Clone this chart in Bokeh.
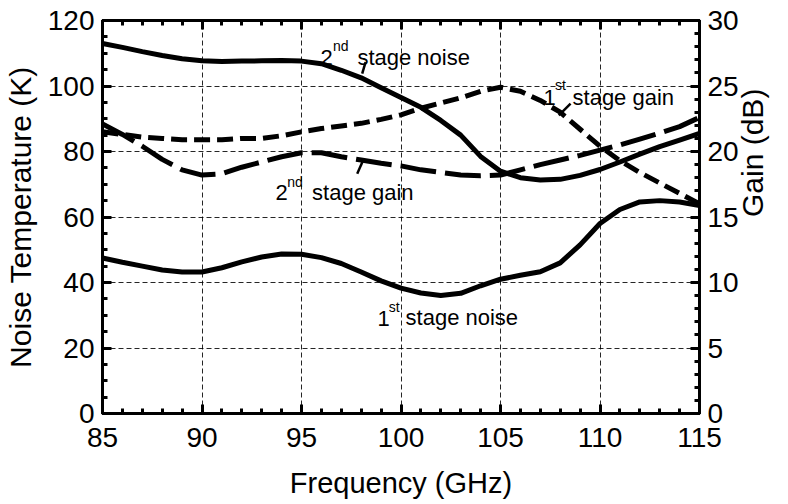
import math
from bokeh.plotting import figure
from bokeh.models import LinearAxis, Range1d, FixedTicker, Label
from bokeh.embed import file_html
from bokeh.resources import INLINE

# ---- data ----
freq = [85, 86, 87, 88, 89, 90, 91, 92, 93, 94, 95, 96, 97, 98, 99, 100,
        101, 102, 103, 104, 105, 106, 107, 108, 109, 110, 111, 112, 113, 114, 115]

noise_2nd = [113.0, 111.8, 110.5, 109.3, 108.3, 107.7, 107.5, 107.6, 107.7, 107.8, 107.6,
             106.8, 104.8, 102.5, 99.5, 96.5, 93.5, 89.5, 85.0, 78.5, 74.0,
             72.0, 71.3, 71.5, 72.7, 74.5, 76.8, 79.2, 81.5, 83.5, 85.5]

noise_1st = [47.5, 46.2, 45.0, 43.8, 43.2, 43.2, 44.5, 46.3, 47.8, 48.7, 48.6,
             47.6, 45.8, 43.2, 40.5, 38.3, 36.8, 36.0, 36.7, 39.0, 41.0,
             42.2, 43.3, 46.0, 51.5, 58.0, 62.3, 64.6, 65.0, 64.6, 63.5]

gain_1st = [21.5, 21.3, 21.1, 21.0, 20.9, 20.9, 20.9, 21.0, 21.0, 21.2, 21.5,
            21.75, 21.95, 22.15, 22.45, 22.8, 23.3, 23.7, 24.1, 24.6, 24.9,
            24.6, 23.9, 23.0, 21.7, 20.4, 19.3, 18.4, 17.6, 16.8, 16.0]

gain_2nd = [22.1, 21.3, 20.4, 19.4, 18.6, 18.2, 18.3, 18.8, 19.2, 19.6, 19.9,
            19.9, 19.6, 19.35, 19.1, 18.9, 18.6, 18.4, 18.2, 18.15, 18.2,
            18.6, 19.0, 19.35, 19.7, 20.1, 20.5, 20.95, 21.4, 21.9, 22.6]

x_major = [85, 90, 95, 100, 105, 110, 115]
x_minor = list(range(85, 116))
t_major = [0, 20, 40, 60, 80, 100, 120]
t_minor = list(range(0, 121, 5))
g_major = [0, 5, 10, 15, 20, 25, 30]
g_minor = list(range(0, 31))

FONT = "Liberation Sans"

p = figure(width=788, height=504,
           x_range=Range1d(85, 115), y_range=Range1d(0, 120),
           output_backend="svg", toolbar_location=None,
           min_border_left=102, min_border_right=89,
           min_border_top=20, min_border_bottom=91)
p.extra_y_ranges = {"gain": Range1d(0, 30)}
p.background_fill_color = "white"
p.border_fill_color = "white"
p.outline_line_color = "black"
p.outline_line_width = 3


def style(ax, ticker):
    ax.ticker = ticker
    ax.axis_line_width = 3
    ax.axis_line_color = "black"
    ax.major_tick_in = 9
    ax.major_tick_out = 0
    ax.minor_tick_in = 5
    ax.minor_tick_out = 0
    ax.major_tick_line_width = 3
    ax.minor_tick_line_width = 3
    ax.major_tick_line_color = "black"
    ax.minor_tick_line_color = "black"
    ax.major_label_text_font = FONT
    ax.major_label_text_font_size = "28px"
    ax.major_label_text_color = "black"
    ax.axis_label_text_font = FONT
    ax.axis_label_text_font_size = "30px"
    ax.axis_label_text_font_style = "normal"
    ax.axis_label_text_color = "black"


xa = p.xaxis[0]
style(xa, FixedTicker(ticks=x_major, minor_ticks=x_minor))
xa.axis_label = "Frequency (GHz)"
xa.axis_label_text_font_size = "29px"
xa.major_label_standoff = 14
xa.axis_label_standoff = 17

ya = p.yaxis[0]
style(ya, FixedTicker(ticks=t_major, minor_ticks=t_minor))
ya.axis_label = "Noise Temperature (K)"
ya.major_label_standoff = 8
ya.axis_label_standoff = 8

ra = LinearAxis(y_range_name="gain")
style(ra, FixedTicker(ticks=g_major, minor_ticks=g_minor))
ra.axis_label = "Gain (dB)"
ra.major_label_standoff = 8
ra.axis_label_standoff = 11
try:
    ra.axis_label_orientation = math.pi / 2
except Exception:
    pass
p.add_layout(ra, "right")

ta = LinearAxis()
style(ta, FixedTicker(ticks=x_major, minor_ticks=x_minor))
ta.major_label_text_font_size = "1px"
ta.major_label_standoff = 0
ta.major_label_text_alpha = 0
p.add_layout(ta, "above")

for g in (p.xgrid[0], p.ygrid[0]):
    g.grid_line_color = "black"
    g.grid_line_width = 1
    g.grid_line_dash = "5 3"
    g.grid_line_alpha = 0.85

LW = 5
p.line(freq, noise_2nd, line_color="black", line_width=LW)
p.line(freq, noise_1st, line_color="black", line_width=LW)
p.line(freq, gain_1st, y_range_name="gain", line_color="black", line_width=LW,
       line_dash="16 7")
p.line(freq, gain_2nd, y_range_name="gain", line_color="black", line_width=LW,
       line_dash="36 9")

# ---- annotations ----
def label(x, y, text, size):
    p.add_layout(Label(x=x, y=y, text=text, text_font=FONT, text_font_size=size,
                       text_color="black", text_align="left",
                       text_baseline="alphabetic"))

BIG, SUP = "22px", "14px"
# 2nd stage noise
label(95.95, 108.7, "2", BIG)
label(96.58, 112.1, "nd", SUP)
label(97.81, 108.7, "stage noise", BIG)
p.line([98.22, 98.05], [107.3, 103.8], line_color="black", line_width=2.5)
# 1st stage gain
label(107.16, 96.6, "1", BIG)
label(107.74, 100.2, "st", SUP)
label(108.62, 96.6, "stage gain", BIG)
p.line([108.52, 107.93], [94.6, 91.0], line_color="black", line_width=2.5)
# 2nd stage gain
label(93.69, 67.6, "2", BIG)
label(94.28, 70.7, "nd", SUP)
label(95.53, 67.6, "stage gain", BIG)
p.line([98.13, 97.80], [77.8, 73.2], line_color="black", line_width=2.5)
# 1st stage noise
label(98.82, 28.9, "1", BIG)
label(99.38, 32.4, "st", SUP)
label(100.23, 29.2, "stage noise", BIG)

open("out.html", "w").write(file_html(p, INLINE))
